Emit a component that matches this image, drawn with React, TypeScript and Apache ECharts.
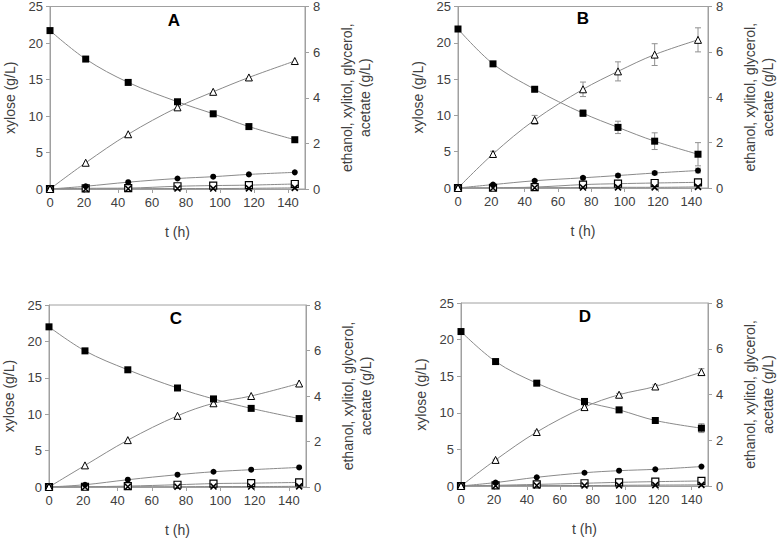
import React, { useEffect, useRef } from "react";
import * as echarts from "echarts";

// ---- data ----
const panelLabels = ["A", "B", "C", "D"];
const xTickValues = [0, 20, 40, 60, 80, 100, 120, 140];

const tA = [0, 21, 46, 75, 96, 117, 144];
const xyloseA = [21.7, 17.8, 14.6, 11.95, 10.3, 8.55, 6.75];
const ethanolA = [0, 1.15, 2.4, 3.58, 4.26, 4.89, 5.61];
const xylitolA = [0, 0.12, 0.3, 0.46, 0.54, 0.64, 0.73];
const glycerolA = [0, 0.03, 0.04, 0.12, 0.15, 0.17, 0.22];
const acetateA = [0, 0, 0.01, 0.02, 0.02, 0.03, 0.05];

const tB = [0, 21, 46, 75, 96, 118, 144];
const xyloseB = [21.9, 17.1, 13.6, 10.3, 8.35, 6.45, 4.65];
const xyloseErrB = [0, 0.2, 0.2, 0.45, 0.85, 1.15, 1.6];
const ethanolB = [0, 1.5, 3.0, 4.35, 5.14, 5.88, 6.53];
const ethanolErrB = [0, 0.12, 0.2, 0.32, 0.42, 0.48, 0.53];
const xylitolB = [0, 0.15, 0.32, 0.45, 0.55, 0.66, 0.77];
const xylitolErrB = [0, 0.03, 0.04, 0.06, 0.07, 0.08, 0.1];
const glycerolB = [0, 0.01, 0.04, 0.15, 0.19, 0.22, 0.25];
const acetateB = [0, 0, 0.01, 0.02, 0.03, 0.03, 0.05];

const tC = [0, 21, 46, 75, 96, 118, 146];
const xyloseC = [22.0, 18.7, 16.1, 13.6, 12.1, 10.8, 9.4];
const ethanolC = [0, 0.95, 2.06, 3.13, 3.68, 4.0, 4.55];
const xylitolC = [0, 0.1, 0.32, 0.54, 0.67, 0.76, 0.86];
const glycerolC = [0, 0.01, 0.04, 0.1, 0.15, 0.17, 0.2];
const acetateC = [0, 0, 0.01, 0.01, 0.02, 0.02, 0.03];

const tD = [0, 21, 46, 75, 96, 118, 146];
const xyloseD = [21.1, 17.0, 14.05, 11.55, 10.4, 8.95, 7.9];
const xyloseErrD = [0, 0.1, 0.15, 0.4, 0.2, 0.35, 0.6];
const ethanolD = [0, 1.14, 2.36, 3.45, 3.99, 4.35, 4.98];
const ethanolErrD = [0, 0.03, 0.05, 0.08, 0.06, 0.07, 0.15];
const xylitolD = [0, 0.15, 0.38, 0.58, 0.67, 0.73, 0.85];
const glycerolD = [0, 0.03, 0.07, 0.12, 0.16, 0.19, 0.22];
const acetateD = [0, 0.01, 0.02, 0.02, 0.03, 0.04, 0.05];

const panels = [
  { t: tA, xylose: xyloseA, ethanol: ethanolA, xylitol: xylitolA, glycerol: glycerolA, acetate: acetateA, xyloseErr: null, ethanolErr: null, xylitolErr: null },
  { t: tB, xylose: xyloseB, ethanol: ethanolB, xylitol: xylitolB, glycerol: glycerolB, acetate: acetateB, xyloseErr: xyloseErrB, ethanolErr: ethanolErrB, xylitolErr: xylitolErrB },
  { t: tC, xylose: xyloseC, ethanol: ethanolC, xylitol: xylitolC, glycerol: glycerolC, acetate: acetateC, xyloseErr: null, ethanolErr: null, xylitolErr: null },
  { t: tD, xylose: xyloseD, ethanol: ethanolD, xylitol: xylitolD, glycerol: glycerolD, acetate: acetateD, xyloseErr: xyloseErrD, ethanolErr: ethanolErrD, xylitolErr: null },
];

// ---- layout ----
const grids = [
  { left: 50, top: 6, width: 255, height: 183 },
  { left: 458, top: 5, width: 255, height: 183 },
  { left: 49, top: 305, width: 257, height: 182 },
  { left: 461, top: 303, width: 254, height: 183 },
];
const titlePos = [
  [174, 20],
  [583, 18],
  [176, 318],
  [585, 316],
];

const FONT = "Liberation Sans, Arial, sans-serif";
const TEXT = "#404040";
const AXIS = "#a0a0a0";
const LINE = "#8a8a8a";

const zip = (a: number[], b: number[]) => a.map((v, i) => [v, b[i]]);
const zip3 = (a: number[], b: number[], c: number[]) => a.map((v, i) => [v, b[i], c[i]]);

function errRender(params: any, api: any) {
  const x = api.value(0);
  const y = api.value(1);
  const e = api.value(2);
  if (!e) return null;
  const top = api.coord([x, y + e]);
  const bot = api.coord([x, y - e]);
  const w = 3;
  const style = { stroke: "#909090", lineWidth: 1, fill: "none" };
  return {
    type: "group",
    children: [
      { type: "line", shape: { x1: top[0], y1: top[1], x2: bot[0], y2: bot[1] }, style },
      { type: "line", shape: { x1: top[0] - w, y1: top[1], x2: top[0] + w, y2: top[1] }, style },
      { type: "line", shape: { x1: bot[0] - w, y1: bot[1], x2: bot[0] + w, y2: bot[1] }, style },
    ],
  };
}

export default function App() {
  const ref = useRef<HTMLDivElement>(null);
  useEffect(() => {
    if (!ref.current) return;
    const chart = echarts.init(ref.current, null, { renderer: "svg" });

    const xAxis: any[] = [];
    const yAxis: any[] = [];
    const series: any[] = [];
    const graphic: any[] = [];

    panels.forEach((p, i) => {
      xAxis.push({
        type: "value",
        gridIndex: i,
        min: 0,
        max: 150,
        interval: 10,
        name: "t (h)",
        nameLocation: "middle",
        nameGap: 36,
        nameTextStyle: { fontFamily: FONT, fontSize: 14, color: TEXT, verticalAlign: "top" },
        axisLine: { lineStyle: { color: AXIS, width: 1 } },
        axisTick: { show: true, length: 4, lineStyle: { color: AXIS }, customValues: xTickValues },
        axisLabel: { fontFamily: FONT, fontSize: 13, color: TEXT, margin: 7, customValues: xTickValues },
        splitLine: { show: false },
      });
      yAxis.push({
        type: "value",
        gridIndex: i,
        position: "left",
        min: 0,
        max: 25,
        interval: 5,
        name: "xylose (g/L)",
        nameLocation: "middle",
        nameRotate: 90,
        nameGap: 33,
        nameTextStyle: { fontFamily: FONT, fontSize: 14, color: TEXT },
        axisLine: { show: true, lineStyle: { color: AXIS, width: 1 } },
        axisTick: { show: true, length: 4, lineStyle: { color: AXIS } },
        axisLabel: { fontFamily: FONT, fontSize: 13, color: TEXT, margin: 7 },
        splitLine: { show: false },
      });
      yAxis.push({
        type: "value",
        gridIndex: i,
        position: "right",
        min: 0,
        max: 8,
        interval: 2,
        name: "ethanol, xylitol, glycerol,\nacetate (g/L)",
        nameLocation: "middle",
        nameRotate: 90,
        nameGap: 33,
        nameTextStyle: { fontFamily: FONT, fontSize: 14, color: TEXT, lineHeight: 18, align: "center" },
        axisLine: { show: true, lineStyle: { color: AXIS, width: 1 } },
        axisTick: { show: true, length: 4, lineStyle: { color: AXIS } },
        axisLabel: { fontFamily: FONT, fontSize: 13, color: TEXT, margin: 8 },
        splitLine: { show: false },
      });

      const yl = i * 2;
      const yr = i * 2 + 1;

      if (p.xyloseErr) {
        series.push({ type: "custom", xAxisIndex: i, yAxisIndex: yl, renderItem: errRender, data: zip3(p.t, p.xylose, p.xyloseErr), z: 1, silent: true });
      }
      if (p.ethanolErr) {
        series.push({ type: "custom", xAxisIndex: i, yAxisIndex: yr, renderItem: errRender, data: zip3(p.t, p.ethanol, p.ethanolErr), z: 1, silent: true });
      }
      if (p.xylitolErr) {
        series.push({ type: "custom", xAxisIndex: i, yAxisIndex: yr, renderItem: errRender, data: zip3(p.t, p.xylitol, p.xylitolErr), z: 1, silent: true });
      }

      const base = {
        type: "line",
        xAxisIndex: i,
        smooth: 0.35,
        showSymbol: true,
        lineStyle: { color: LINE, width: 1 },
        z: 3,
      };
      series.push({
        ...base,
        name: "glycerol",
        yAxisIndex: yr,
        data: zip(p.t, p.glycerol),
        symbol: "rect",
        symbolSize: 7,
        itemStyle: { color: "#ffffff", borderColor: "#000000", borderWidth: 1.2 },
      });
      series.push({
        ...base,
        name: "acetate",
        yAxisIndex: yr,
        data: zip(p.t, p.acetate),
        symbol: "path://M0,0L10,10M10,0L0,10",
        symbolSize: 6,
        itemStyle: { color: "transparent", borderColor: "#000000", borderWidth: 1.6 },
      });
      series.push({
        ...base,
        name: "xylitol",
        yAxisIndex: yr,
        data: zip(p.t, p.xylitol),
        symbol: "circle",
        symbolSize: 6,
        itemStyle: { color: "#000000", borderColor: "#000000", borderWidth: 0 },
      });
      series.push({
        ...base,
        name: "ethanol",
        yAxisIndex: yr,
        data: zip(p.t, p.ethanol),
        symbol: "triangle",
        symbolSize: 7,
        itemStyle: { color: "#ffffff", borderColor: "#000000", borderWidth: 1 },
      });
      series.push({
        ...base,
        name: "xylose",
        yAxisIndex: yl,
        data: zip(p.t, p.xylose),
        symbol: "rect",
        symbolSize: 7,
        itemStyle: { color: "#000000", borderColor: "#000000", borderWidth: 0 },
      });

      graphic.push({
        type: "text",
        x: titlePos[i][0],
        y: titlePos[i][1],
        z: 10,
        style: {
          text: panelLabels[i],
          font: `bold 17px ${FONT}`,
          fill: "#000000",
          textAlign: "center",
          textVerticalAlign: "middle",
        },
      });
    });

    chart.setOption({
      animation: false,
      backgroundColor: "#ffffff",
      grid: grids.map((g) => ({ ...g, show: true, borderColor: AXIS, borderWidth: 1, backgroundColor: "transparent", containLabel: false })),
      xAxis,
      yAxis,
      series,
      graphic,
    });
    return () => chart.dispose();
  }, []);
  return <div ref={ref} style={{ position: "absolute", left: 0, top: 0, width: 778, height: 539 }} />;
}
